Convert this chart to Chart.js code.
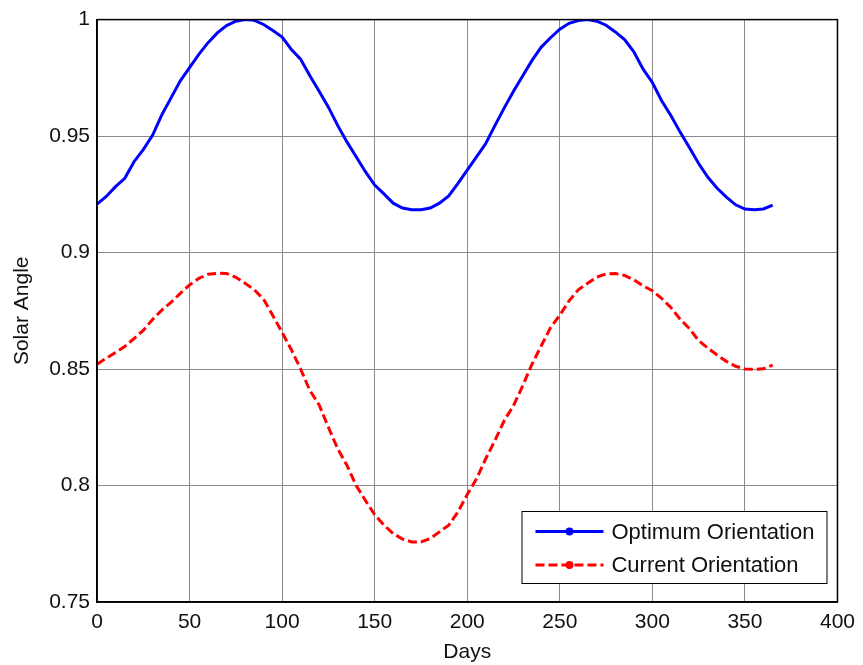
<!DOCTYPE html>
<html>
<head>
<meta charset="utf-8">
<script src="https://cdn.jsdelivr.net/npm/chart.js@4.4.1/dist/chart.umd.min.js"></script>
<style>
  html, body { margin: 0; padding: 0; background: #fff; }
  #wrap { width: 863px; height: 665px; position: relative; }
</style>
</head>
<body>
<div id="wrap"><canvas id="chart"></canvas></div>
<script>
// ============ Data ============
const days = [
    0, 5, 10, 15, 20, 25, 30, 35, 40, 45, 50, 55, 60, 65, 70, 75, 80, 85, 90, 95,
    100, 105, 110, 115, 120, 125, 130, 135, 140, 145, 150, 155, 160, 165, 170, 175, 180, 185, 190, 195,
    200, 205, 210, 215, 220, 225, 230, 235, 240, 245, 250, 255, 260, 265, 270, 275, 280, 285, 290, 295,
    300, 305, 310, 315, 320, 325, 330, 335, 340, 345, 350, 355, 360, 365
];

const optimum = [
    0.9208, 0.9241, 0.9283, 0.9319, 0.9390, 0.9442, 0.9503, 0.9591, 0.9664, 0.9737,
    0.9794, 0.9851, 0.9901, 0.9943, 0.9974, 0.9993, 1.0000, 0.9997, 0.9979, 0.9953,
    0.9925, 0.9872, 0.9830, 0.9759, 0.9692, 0.9624, 0.9546, 0.9475, 0.9411, 0.9347,
    0.9290, 0.9252, 0.9212, 0.9191, 0.9184, 0.9184, 0.9191, 0.9212, 0.9243, 0.9297,
    0.9354, 0.9411, 0.9468, 0.9546, 0.9621, 0.9692, 0.9759, 0.9825, 0.9882, 0.9922,
    0.9959, 0.9984, 0.9996, 1.0000, 0.9993, 0.9976, 0.9947, 0.9914, 0.9862, 0.9787,
    0.9730, 0.9652, 0.9588, 0.9517, 0.9451, 0.9382, 0.9323, 0.9276, 0.9238, 0.9205,
    0.9187, 0.9184, 0.9187, 0.9204
];

const current = [
    0.8521, 0.8546, 0.8571, 0.8597, 0.8631, 0.8666, 0.8713, 0.8753, 0.8786, 0.8825,
    0.8861, 0.8889, 0.8907, 0.8911, 0.8910, 0.8894, 0.8868, 0.8840, 0.8800, 0.8729,
    0.8657, 0.8583, 0.8500, 0.8408, 0.8346, 0.8250, 0.8158, 0.8087, 0.8000, 0.7936,
    0.7875, 0.7830, 0.7794, 0.7770, 0.7758, 0.7758, 0.7772, 0.7801, 0.7830, 0.7887,
    0.7961, 0.8029, 0.8115, 0.8194, 0.8279, 0.8343, 0.8429, 0.8521, 0.8600, 0.8678,
    0.8731, 0.8793, 0.8840, 0.8868, 0.8895, 0.8908, 0.8910, 0.8902, 0.8883, 0.8857,
    0.8836, 0.8803, 0.8764, 0.8714, 0.8674, 0.8622, 0.8590, 0.8560, 0.8533, 0.8512,
    0.8500, 0.8499, 0.8501, 0.8517
];

const xTicks = [0, 50, 100, 150, 200, 250, 300, 350, 400];
const yTicks = [0.75, 0.8, 0.85, 0.9, 0.95, 1];
const seriesNames = ['Optimum Orientation', 'Current Orientation'];

// ============ Helpers ============
const FONT = 'Arial, "Liberation Sans", sans-serif';

const toPoints = (xs, ys) => xs.map((x, i) => ({ x, y: ys[i] }));

// Frame round the plot area (top and right edges)
const framePlugin = {
    id: 'frame',
    afterDatasetsDraw(chart) {
        const { ctx, chartArea: a } = chart;
        ctx.save();
        ctx.strokeStyle = '#000';
        ctx.lineWidth = 1.5;
        ctx.strokeRect(a.left, a.top, a.right - a.left, a.bottom - a.top);
        ctx.restore();
    }
};

// Legend box inside the lower right corner, MATLAB style
const boxLegend = {
    id: 'boxLegend',
    afterDraw(chart) {
        const { ctx, chartArea: a } = chart;
        const w = 305, h = 72;
        const x0 = a.right - 11 - w;
        const y0 = a.bottom - 19 - h;
        ctx.save();
        ctx.fillStyle = '#fff';
        ctx.fillRect(x0, y0, w, h);
        ctx.strokeStyle = '#000';
        ctx.lineWidth = 1;
        ctx.strokeRect(x0 + 0.5, y0 + 0.5, w, h);

        chart.data.datasets.forEach((ds, i) => {
            const cy = y0 + 20.5 + i * 33.5;
            const lx0 = x0 + 14, lx1 = x0 + 82;
            ctx.strokeStyle = ds.borderColor;
            ctx.lineWidth = ds.borderWidth;
            ctx.setLineDash(ds.borderDash || []);
            ctx.beginPath();
            ctx.moveTo(lx0, cy);
            ctx.lineTo(lx1, cy);
            ctx.stroke();
            ctx.setLineDash([]);
            ctx.fillStyle = ds.borderColor;
            ctx.beginPath();
            ctx.arc((lx0 + lx1) / 2, cy, 4, 0, 2 * Math.PI);
            ctx.fill();

            ctx.fillStyle = '#111';
            ctx.font = '22px ' + FONT;
            ctx.textBaseline = 'middle';
            ctx.textAlign = 'left';
            ctx.fillText(ds.label, x0 + 90, cy + 1);
        });
        ctx.restore();
    }
};

// ============ Chart ============
const ctx = document.getElementById('chart').getContext('2d');
new Chart(ctx, {
    type: 'line',
    data: {
        datasets: [
            {
                label: seriesNames[0],
                data: toPoints(days, optimum),
                borderColor: '#0000ff',
                borderWidth: 3,
                pointRadius: 0,
                tension: 0
            },
            {
                label: seriesNames[1],
                data: toPoints(days, current),
                borderColor: '#ff0000',
                borderWidth: 3,
                borderDash: [9, 4],
                pointRadius: 0,
                tension: 0
            }
        ]
    },
    options: {
        responsive: true,
        maintainAspectRatio: false,
        animation: false,
        layout: { padding: { top: 15, right: 22, left: 0, bottom: 0 } },
        plugins: {
            legend: { display: false },
            tooltip: { enabled: false }
        },
        scales: {
            x: {
                type: 'linear',
                min: 0,
                max: 400,
                afterBuildTicks: s => { s.ticks = xTicks.map(v => ({ value: v })); },
                afterFit: s => { s.height = 63; },
                ticks: {
                    color: '#111',
                    font: { family: FONT, size: 21 },
                    padding: 8,
                    maxRotation: 0,
                    callback: v => String(v)
                },
                grid: { color: '#8a8a8a', lineWidth: 1, drawTicks: false },
                border: { color: '#000', width: 1.5 },
                title: {
                    display: true,
                    text: 'Days',
                    color: '#111',
                    font: { family: FONT, size: 21 },
                    padding: { top: 0, bottom: 0 }
                }
            },
            y: {
                type: 'linear',
                min: 0.75,
                max: 1,
                afterBuildTicks: s => { s.ticks = yTicks.map(v => ({ value: v })); },
                afterFit: s => { s.width = 97; },
                ticks: {
                    color: '#111',
                    font: { family: FONT, size: 21 },
                    padding: 7,
                    callback: v => String(v)
                },
                grid: { color: '#8a8a8a', lineWidth: 1, drawTicks: false },
                border: { color: '#000', width: 1.5 },
                title: {
                    display: true,
                    text: 'Solar Angle',
                    color: '#111',
                    font: { family: FONT, size: 21 },
                    padding: { top: 10, bottom: 0 }
                }
            }
        }
    },
    plugins: [framePlugin, boxLegend]
});
</script>
</body>
</html>
